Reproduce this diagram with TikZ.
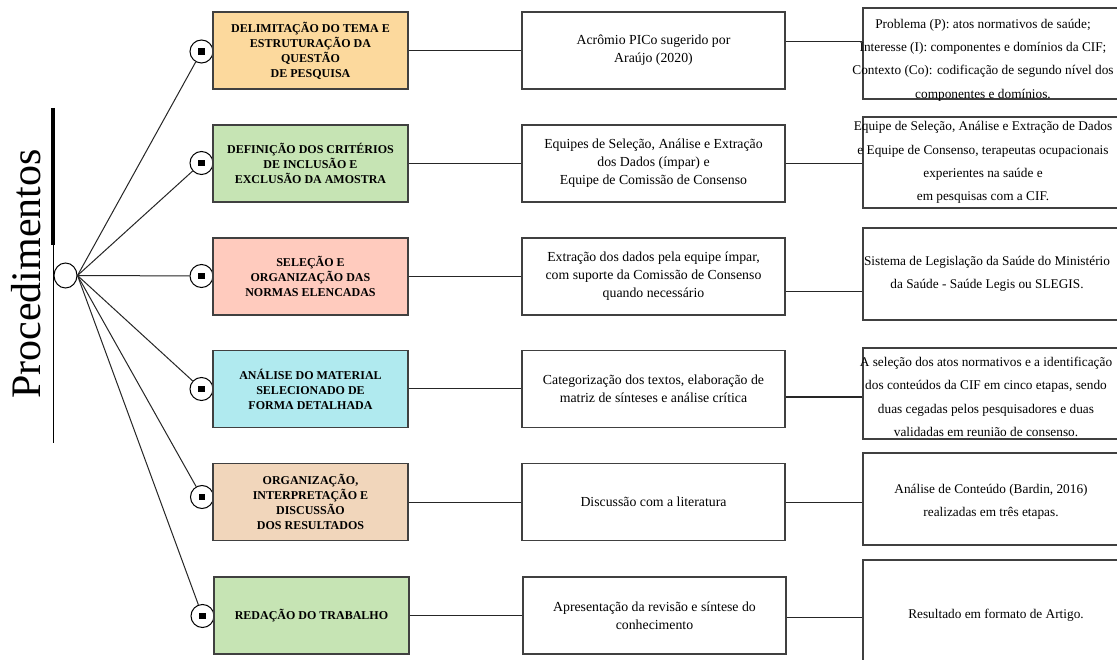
\documentclass[tikz,border=0pt]{standalone}
\usepackage{fontspec}
\setmainfont{Liberation Serif}
\usetikzlibrary{shapes.geometric}
\definecolor{cOrange}{HTML}{FCD99D}
\definecolor{cGreen}{HTML}{C6E4B4}
\definecolor{cSalmon}{HTML}{FFCBBE}
\definecolor{cCyan}{HTML}{B0EAEF}
\definecolor{cTan}{HTML}{F1D6BB}
\definecolor{cBorder}{HTML}{404040}
\begin{document}
\begin{tikzpicture}[x=1pt,y=-1pt,
  boxbase/.style={draw=cBorder, line width=1.1pt, rectangle, inner sep=2pt, align=center},
  lbox/.style={boxbase, minimum width=195pt, minimum height=77pt, font=\fontsize{12}{15}\selectfont\bfseries},
  mbox/.style={boxbase, fill=white, minimum width=263pt, minimum height=77pt, font=\fontsize{13.8}{18}\selectfont},
  rbox/.style={boxbase, fill=white, minimum width=258pt},
  rtext/.style={align=center, inner sep=0pt, font=\fontsize{13.3}{23.3}\selectfont},
  conn/.style={line width=1pt, draw=black!85},
  dotc/.style={circle, draw=black, line width=1pt, fill=white, minimum size=23pt, inner sep=0pt,
    path picture={\fill[black] ([shift={(-3.2pt,-3.2pt)}]path picture bounding box.center) rectangle ++(6.4pt,6.4pt);}},
]
\useasboundingbox (0,0) rectangle (1117,660);
\clip (0,0) rectangle (1117,660);
\fill[white] (0,0) rectangle (1117,660);

% title
\node[rotate=90, inner sep=0pt, font=\fontsize{42}{42}\selectfont] (title) at (26,274) {Procedimentos};
\coordinate (vt) at (53,108);
\coordinate (vm) at (53,245);
\coordinate (vb) at (53,443);
\draw[line width=4pt] (vt) -- (vm);
\draw[line width=1pt] (vm) -- (vb);

% root
\node[ellipse, draw=black, line width=1pt, fill=white, minimum width=23pt, minimum height=25pt, inner sep=0pt] (root) at (65.5,275.5) {};

% small circles
\node[dotc] (s1) at (201.5,51.5) {};
\node[dotc] (s2) at (201.5,163) {};
\node[dotc] (s3) at (201.5,276) {};
\node[dotc] (s4) at (201.5,389) {};
\node[dotc] (s5) at (202,497) {};
\node[dotc] (s6) at (202.5,616) {};

\foreach \i in {1,...,6}{\draw[conn] (root.east) -- (s\i);}

% left boxes
\node[lbox, fill=cOrange] (l1) at (310.5,50.5) {DELIMITAÇÃO DO TEMA E\\ESTRUTURAÇÃO DA\\QUESTÃO\\DE PESQUISA};
\node[lbox, fill=cGreen] (l2) at (310.5,163.5) {DEFINIÇÃO DOS CRITÉRIOS\\DE INCLUSÃO E\\EXCLUSÃO DA AMOSTRA};
\node[lbox, fill=cSalmon] (l3) at (310.5,276.5) {SELEÇÃO E\\ORGANIZAÇÃO DAS\\NORMAS ELENCADAS};
\node[lbox, fill=cCyan] (l4) at (310.5,389) {ANÁLISE DO MATERIAL\\SELECIONADO DE\\FORMA DETALHADA};
\node[lbox, fill=cTan] (l5) at (310.5,502) {ORGANIZAÇÃO,\\INTERPRETAÇÃO E\\DISCUSSÃO\\DOS RESULTADOS};
\node[lbox, fill=cGreen] (l6) at (311.5,615.5) {REDAÇÃO DO TRABALHO};

% middle boxes
\node[mbox] (m1) at (653.5,50.5) {Acrômio PICo sugerido por\\Araújo (2020)};
\node[mbox] (m2) at (653.5,163.5) {Equipes de Seleção, Análise e Extração\\dos Dados (ímpar) e\\Equipe de Comissão de Consenso};
\node[mbox] (m3) at (653.5,276.5) {Extração dos dados pela equipe ímpar,\\com suporte da Comissão de Consenso\\quando necessário};
\node[mbox] (m4) at (653.5,389) {Categorização dos textos, elaboração de\\matriz de sínteses e análise crítica};
\node[mbox] (m5) at (653.5,502) {Discussão com a literatura};
\node[mbox] (m6) at (654.5,615.5) {Apresentação da revisão e síntese do\\conhecimento};

% right boxes
\node[rbox, minimum height=91pt] (r1) at (992,53.5) {};
\node[rbox, minimum height=91pt] (r2) at (992,162.5) {};
\node[rbox, minimum height=92pt] (r3) at (992,274) {};
\node[rbox, minimum height=91pt] (r4) at (992,393.5) {};
\node[rbox, minimum height=92pt] (r5) at (992,499) {};
\node[rbox, minimum height=112pt] (r6) at (992,616) {};

\node[rtext] (t1) at (983,60) {Problema (P): atos normativos de saúde;\\Interesse (I): componentes e domínios da CIF;\\Contexto (Co): codificação de segundo nível dos\\componentes e domínios.};
\node[rtext] (t2) at (983,162.5) {Equipe de Seleção, Análise e Extração de Dados\\e Equipe de Consenso, terapeutas ocupacionais\\experientes na saúde e\\em pesquisas com a CIF.};
\node[rtext] (t3) at (987,274) {Sistema de Legislação da Saúde do Ministério\\da Saúde - Saúde Legis ou SLEGIS.};
\node[rtext] (t4) at (986,397) {A seleção dos atos normativos e a identificação\\dos conteúdos da CIF em cinco etapas, sendo\\duas cegadas pelos pesquisadores e duas\\validadas em reunião de consenso.};
\node[rtext] (t5) at (991,502) {Análise de Conteúdo (Bardin, 2016)\\realizadas em três etapas.};
\node[rtext] (t6) at (996,615) {Resultado em formato de Artigo.};

% left -> middle connectors
\foreach \i in {1,...,6}{\draw[conn] (l\i.east) -- (m\i.west);}

% middle -> right connectors
\coordinate (y1) at (0,42);
\coordinate (y2) at (0,164);
\coordinate (y3) at (0,292);
\coordinate (y4) at (0,397);
\coordinate (y5) at (0,502);
\coordinate (y6) at (0,617);
\foreach \i in {1,...,6}{\draw[conn] (m\i.east |- y\i) -- (r\i.west |- y\i);}
\end{tikzpicture}
\end{document}
